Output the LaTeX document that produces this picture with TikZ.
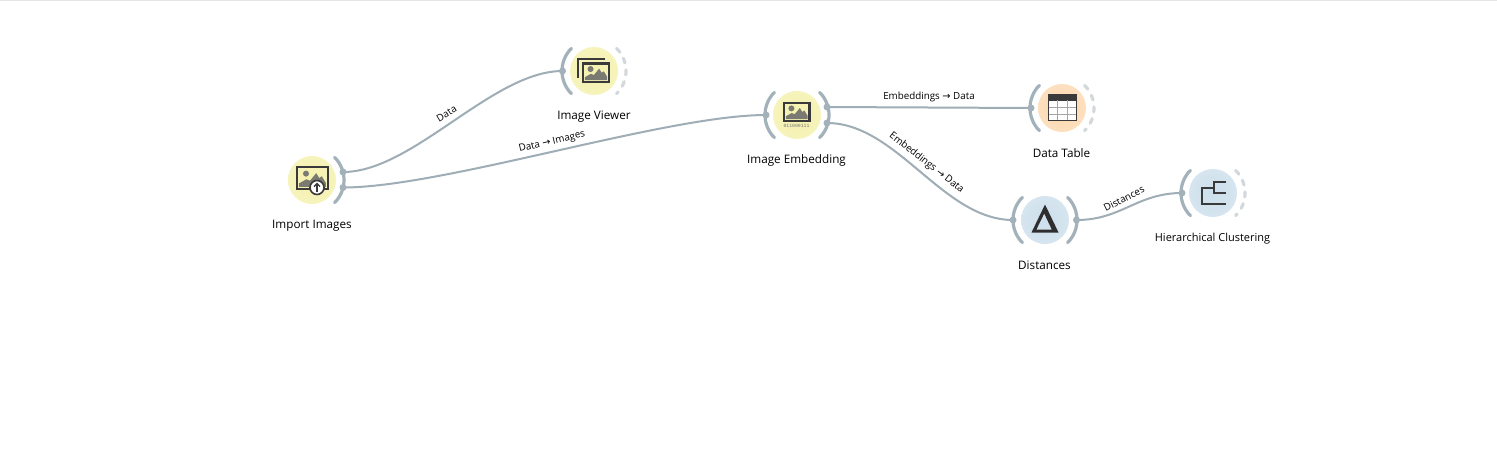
\documentclass[tikz,border=0pt]{standalone}
\usepackage{fontspec}
\setmainfont{Open Sans}
\newfontfamily\arrowfont{DejaVu Sans}
\newfontfamily\monofnt{Liberation Mono}
\definecolor{chan}{HTML}{A3B1BA}
\definecolor{chanlight}{HTML}{D2D8DC}
\definecolor{link}{HTML}{9FADB6}
\definecolor{ink}{HTML}{3A3A3A}
\definecolor{mount}{HTML}{7A7A72}
\definecolor{yelA}{HTML}{F5F1AC}
\definecolor{yelB}{HTML}{F6F3BC}
\definecolor{oraA}{HTML}{FCD6A6}
\definecolor{oraB}{HTML}{FDE0C0}
\definecolor{bluA}{HTML}{CCDFEC}
\definecolor{bluB}{HTML}{D6E5EF}
\newcommand{\arw}{{\arrowfont\char"2192}}
\newcommand{\leftarc}[1]{\draw[chanarc] (#1)+(135:32) arc (135:225:32);}
\newcommand{\rightarc}[1]{\draw[chanarc] (#1)+(-45:32) arc (-45:45:32);}
\newcommand{\dashedarc}[1]{\draw[chandash] (#1)+(-45:32) arc (-45:45:32);}
\newcommand{\pict}[4]{%
  \begin{scope}[shift={(#1,#2)},xscale=#3,yscale=#4]
    \fill[mount] (0.07,0.9) -- (0.07,0.74) -- (0.3,0.56) -- (0.42,0.62) -- (0.62,0.28) -- (0.72,0.5) -- (0.8,0.42) -- (0.93,0.72) -- (0.93,0.9) -- cycle;
    \fill[mount] (0.29,0.3) circle[x radius=3/#3,y radius=3/#4];
    \draw[ink,line width=2.6pt] (0,0) rectangle (1,1);
  \end{scope}}
\tikzset{
  x=1pt,y=-1pt,
  widget/.style={circle,minimum size=48pt,inner sep=0pt},
  yellowwidget/.style={widget,inner color=yelA,outer color=yelB},
  orangewidget/.style={widget,inner color=oraA,outer color=oraB},
  bluewidget/.style={widget,inner color=bluA,outer color=bluB},
  chanarc/.style={draw=chan,line width=3.2pt,line cap=round},
  chandash/.style={draw=chanlight,line width=3.2pt,line cap=round,dash pattern=on 5pt off 7pt},
  anchordot/.style={circle,fill=chan,minimum size=7pt,inner sep=0pt},
  linkline/.style={draw=link,line width=2pt},
  caption/.style={font=\fontsize{11.7}{14}\selectfont,text=black,inner sep=0pt},
  linklabel/.style={font=\fontsize{9.8}{12}\selectfont,text=black,inner sep=0pt},
}
\begin{document}
\begin{tikzpicture}
\useasboundingbox (0,0) rectangle (1497,451);
\fill[white] (0,0) rectangle (1497,451);
\draw[black!10,line width=1pt] (0,0.5) -- (1497,0.5);

% widgets
\node[yellowwidget] (imp) at (312,180) {};
\node[yellowwidget] (view) at (594,71) {};
\node[yellowwidget] (emb) at (797,115) {};
\node[orangewidget] (tab) at (1062,108) {};
\node[bluewidget] (dist) at (1045,220) {};
\node[bluewidget] (hier) at (1213,193) {};

% captions
\node[caption] (impcap) at (312,225.5) {Import Images};
\node[caption] (viewcap) at (594,116.5) {Image Viewer};
\node[caption] (embcap) at (796.5,160.5) {Image Embedding};
\node[caption] (tabcap) at (1061.5,153) {Data Table};
\node[caption] (distcap) at (1044.5,265) {Distances};
\node[caption,font=\fontsize{11}{14}\selectfont] (hiercap) at (1212.5,238.5) {Hierarchical Clustering};

% channel anchors
\coordinate (impoutA) at (343,172);
\coordinate (impoutB) at (343,187.5);
\coordinate (viewin) at (562.5,71);
\coordinate (embin) at (766,115);
\coordinate (emboutA) at (827,107);
\coordinate (emboutB) at (827,123);
\coordinate (tabin) at (1031,108);
\coordinate (distin) at (1013,220);
\coordinate (distout) at (1076.5,220);
\coordinate (hierin) at (1182,193);

% links
\draw[linkline] (impoutA) .. controls +(70,0) and +(-70,0) .. (viewin);
\draw[linkline] (impoutB) .. controls +(100,0) and +(-100,0) .. (embin);
\draw[linkline] (emboutA) -- (tabin);
\draw[linkline] (emboutB) .. controls +(70,0) and +(-70,0) .. (distin);
\draw[linkline] (distout) .. controls +(45,0) and +(-45,0) .. (hierin);

% arcs
\rightarc{imp}
\leftarc{view}\dashedarc{view}
\leftarc{emb}\rightarc{emb}
\leftarc{tab}\dashedarc{tab}
\leftarc{dist}\rightarc{dist}
\leftarc{hier}\dashedarc{hier}

% anchor dots
\foreach \p/\q in {impoutA/a,impoutB/b,viewin/c,embin/d,emboutA/e,emboutB/f,tabin/g,distin/h,distout/i,hierin/j}
  \node[anchordot] (dot\q) at (\p) {};

% link labels
\node[linklabel,rotate=31] (lab1) at (446.5,113.5) {Data};
\node[linklabel,rotate=13] (lab2) at (552,142) {Data \arw\ Images};
\node[linklabel] (lab3) at (929,97) {Embeddings \arw\ Data};
\node[linklabel,rotate=-38] (lab4) at (926.5,163) {Embeddings \arw\ Data};
\node[linklabel,rotate=27] (lab5) at (1124,198.5) {Distances};

% icon: import images
\pict{297}{167}{31}{22}
\draw[ink,line width=1.6pt,fill=white] (317,187.5) circle[radius=7];
\draw[ink,line width=1.5pt] (317,192) -- (317,184);
\draw[ink,line width=1.4pt] (314,186.5) -- (317,183.5) -- (320,186.5);

% icon: image viewer
\draw[ink,line width=2pt] (605,59) -- (578,59) -- (578,78);
\pict{583}{63.5}{26}{18.5}

% icon: image embedding
\pict{784}{103}{25.5}{18}
\node[font=\monofnt\fontsize{4.8}{5}\selectfont,text=black!55,inner sep=0pt] (embbits) at (796.5,126) {011000111};

% icon: data table
\fill[white] (1048.5,94.5) rectangle (1076.5,120.5);
\fill[ink] (1048.5,94.5) rectangle (1076.5,100.5);
\draw[black!35,line width=0.8pt] (1057.8,100) -- (1057.8,120.5) (1067.2,100) -- (1067.2,120.5)
  (1048.5,107) -- (1076.5,107) (1048.5,114) -- (1076.5,114);
\draw[ink,line width=1.8pt] (1048.5,94.5) rectangle (1076.5,120.5);

% icon: distances
\fill[black!82,even odd rule] (1045,204.5) -- (1058.5,232.5) -- (1031.5,232.5) -- cycle
  (1044.2,213.5) -- (1051.8,229.5) -- (1036.4,229.5) -- cycle;

% icon: hierarchical clustering
\draw[ink,line width=2pt] (1226,182) -- (1214,182) -- (1214,193) -- (1226,193)
  (1214,187.5) -- (1202,187.5) -- (1202,203.5) -- (1226,203.5);
\end{tikzpicture}
\end{document}
